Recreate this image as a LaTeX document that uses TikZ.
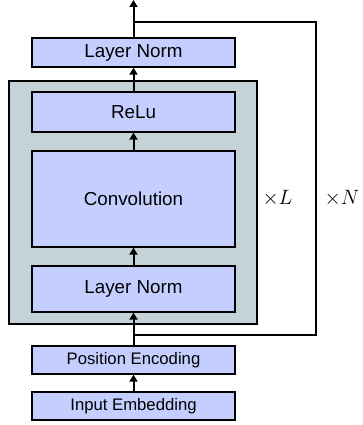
\documentclass[tikz,border=0pt]{standalone}
\usepackage{fontspec}
\setmainfont{Liberation Sans}
\usetikzlibrary{arrows.meta}
\definecolor{blockfill}{RGB}{197,207,255}
\definecolor{stackfill}{RGB}{196,211,216}
\tikzset{
  block/.style={draw=black, line width=1.3pt, fill=blockfill, minimum width=203pt, inner sep=0pt, font=\fontsize{18.8}{20}\selectfont},
  smallblock/.style={block, font=\fontsize{16.7}{18}\selectfont},
  flow/.style={line width=2pt, -{Triangle[length=7pt, width=8pt]}},
  skipline/.style={line width=1.6pt},
}
\begin{document}
\begin{tikzpicture}[x=1pt, y=-1pt]
  \useasboundingbox (0,0) rectangle (362,425);
  % repeated stack of L layers
  \node[draw=black, line width=1.3pt, fill=stackfill, minimum width=248pt, minimum height=243pt, inner sep=0pt] (stack) at (133,202.5) {};
  \node[block, minimum height=40pt] (relu) at (133.5,112) {ReLu};
  \node[block, minimum height=96pt] (conv) at (133.5,199) {Convolution};
  \node[block, minimum height=46pt] (lnin) at (133.5,289) {Layer Norm};
  \node[block, minimum height=29pt] (lnout) at (133.5,52.5) {Layer Norm};
  \node[smallblock, minimum height=28pt] (pos) at (133.5,360) {Position Encoding};
  \node[smallblock, minimum height=28pt] (emb) at (133.5,406) {Input Embedding};
  % residual connection around the stack
  \coordinate (split) at (133.5,335);
  \coordinate (rbot) at (316,335);
  \coordinate (rtop) at (316,22);
  \coordinate (join) at (133.5,22);
  \coordinate (out) at (133.5,0);
  \draw[skipline] (split) -- (rbot) -- (rtop) -- (join);
  % main data flow
  \draw[flow] (emb) -- (pos);
  \draw[flow] (pos) -- (lnin);
  \draw[flow] (lnin) -- (conv);
  \draw[flow] (conv) -- (relu);
  \draw[flow] (relu) -- (lnout);
  \draw[flow] (lnout) -- (out);
  % repetition counts
  \node[font=\fontsize{21}{24}\selectfont] (xl) at (277.5,198) {$\times L$};
  \node[font=\fontsize{21}{24}\selectfont] (xn) at (342,198) {$\times N$};
\end{tikzpicture}
\end{document}
